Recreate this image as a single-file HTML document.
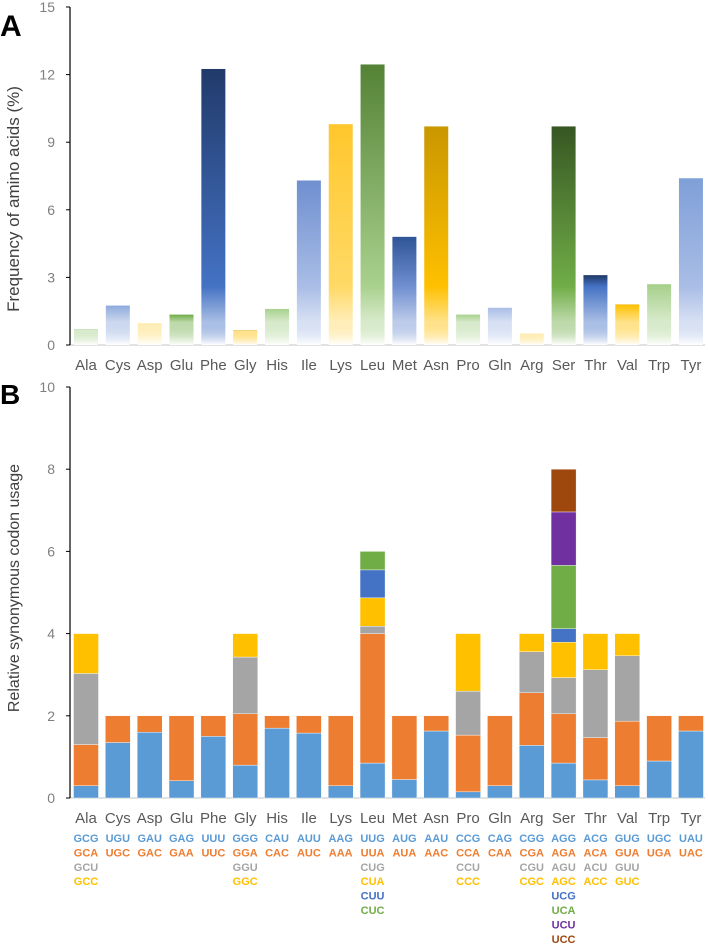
<!DOCTYPE html>
<html><head><meta charset="utf-8"><style>
body{margin:0;background:#fff;}
svg{display:block;font-family:"Liberation Sans",sans-serif;}
</style></head><body>
<svg id="chart" width="708" height="945" viewBox="0 0 708 945">
<defs id="defs"></defs>
<text x="0" y="36" font-size="30" font-weight="bold">A</text>
<text x="0" y="404" font-size="28" font-weight="bold">B</text>
<text transform="translate(19,199) rotate(-90)" text-anchor="middle" font-size="17" fill="#404040">Frequency of amino acids (%)</text>
<text transform="translate(19,588) rotate(-90)" text-anchor="middle" font-size="16" fill="#404040">Relative synonymous codon usage</text>
<g id="gA"></g>
<g id="gB"></g>
</svg>
<script>
const categories=["Ala","Cys","Asp","Glu","Phe","Gly","His","Ile","Lys","Leu","Met","Asn","Pro","Gln","Arg","Ser","Thr","Val","Trp","Tyr"];
const freqValues=[0.7,1.75,0.95,1.35,12.25,0.65,1.6,7.3,9.8,12.45,4.8,9.7,1.35,1.65,0.5,9.7,3.1,1.8,2.7,7.4];
const freqTicks=[0,3,6,9,12,15];
const topColors=["#70ad47","#4472c4","#ffc000","#3b5e27","#213a6a","#7f6000","#93c47d","#6f8fd0","#ffc72c","#548235","#2f5597","#c99700","#a9d18e","#8faadc","#ffd966","#375623","#203864","#7f6000","#a9d18e","#7f9fd8"];
const midColors=["#a9d18e","#8faadc","#ffd966","#70ad47","#4472c4","#ffc000","#a9d18e","#a9bde6","#ffd966","#a9d18e","#6f8fd0","#ffc000","#a9d18e","#a9bde6","#ffd966","#70ad47","#4472c4","#ffc000","#a9d18e","#a9bde6"];
const rscuTicks=[0,2,4,6,8,10];
const layer1=[0.3,1.35,1.6,0.42,1.5,0.8,1.7,1.58,0.3,0.85,0.45,1.63,0.15,0.3,1.28,0.85,0.44,0.3,0.9,1.63];
const layer2=[1.0,0.65,0.4,1.58,0.5,1.25,0.3,0.42,1.7,3.15,1.55,0.37,1.38,1.7,1.28,1.2,1.03,1.57,1.1,0.37];
const layer3=[1.73,0,0,0,0,1.38,0,0,0,0.18,0,0,1.07,0,1.0,0.88,1.65,1.59,0,0];
const layer4=[0.97,0,0,0,0,0.57,0,0,0,0.69,0,0,1.4,0,0.44,0.86,0.88,0.54,0,0];
const layer5=[0,0,0,0,0,0,0,0,0,0.68,0,0,0,0,0,0.33,0,0,0,0];
const layer6=[0,0,0,0,0,0,0,0,0,0.45,0,0,0,0,0,1.54,0,0,0,0];
const layer7=[0,0,0,0,0,0,0,0,0,0,0,0,0,0,0,1.3,0,0,0,0];
const layer8=[0,0,0,0,0,0,0,0,0,0,0,0,0,0,0,1.04,0,0,0,0];
const layers=[layer1,layer2,layer3,layer4,layer5,layer6,layer7,layer8];
const layerColors=["#5b9bd5","#ed7d31","#a5a5a5","#ffc000","#4472c4","#70ad47","#7030a0","#9e480e"];
const codons=[["GCG","GCA","GCU","GCC"],["UGU","UGC"],["GAU","GAC"],["GAG","GAA"],["UUU","UUC"],["GGG","GGA","GGU","GGC"],["CAU","CAC"],["AUU","AUC"],["AAG","AAA"],["UUG","UUA","CUG","CUA","CUU","CUC"],["AUG","AUA"],["AAU","AAC"],["CCG","CCA","CCU","CCC"],["CAG","CAA"],["CGG","CGA","CGU","CGC"],["AGG","AGA","AGU","AGC","UCG","UCA","UCU","UCC"],["ACG","ACA","ACU","ACC"],["GUG","GUA","GUU","GUC"],["UGC","UGA"],["UAU","UAC"]];

const NS="http://www.w3.org/2000/svg";
function mk(tag,attrs,parent){const e=document.createElementNS(NS,tag);for(const k in attrs)e.setAttribute(k,attrs[k]);parent.appendChild(e);return e;}
const xPos=i=>86+i*31.84;
const yA=v=>345-v*(338/15);
const yB=v=>798-v*41.1;
const gA=document.getElementById('gA'),gB=document.getElementById('gB'),defs=document.getElementById('defs');

for(const t of freqTicks){
  const tx=mk('text',{x:55,y:yA(t)+5,'text-anchor':'end','font-size':14,fill:'#7f7f7f'},gA);tx.textContent=t;
  
  
  mk('line',{x1:66,x2:70,y1:yA(t),y2:yA(t),stroke:'#000','stroke-width':1},gA);
}
mk('line',{x1:70,x2:705,y1:yA(0),y2:yA(0),stroke:'#d9d9d9','stroke-width':1.5},gA);
mk('line',{x1:70,x2:70,y1:yA(15),y2:yA(0),stroke:'#000','stroke-width':1.2},gA);
categories.forEach((c,i)=>{
  const v=freqValues[i];
  const g=mk('linearGradient',{id:'gr'+i,x1:0,y1:0,x2:0,y2:1},defs);
  const mid=Math.max(0,Math.min(0.9,1-2.6/v));
  const fade=Math.max(mid+0.05,Math.min(0.97,1-1.0/v));
  mk('stop',{offset:0,'stop-color':topColors[i]},g);
  mk('stop',{offset:mid,'stop-color':midColors[i]},g);
  mk('stop',{offset:fade,'stop-color':midColors[i],'stop-opacity':0.45},g);
  mk('stop',{offset:1,'stop-color':'#fff'},g);
  const r=mk('rect',{x:xPos(i)-12,y:yA(v),width:24,height:yA(0)-yA(v),fill:'url(#gr'+i+')'},gA);
  
  
  const t=mk('text',{x:xPos(i),y:370,'text-anchor':'middle','font-size':15,fill:'#595959'},gA);t.textContent=c;
  
  
});

for(const t of rscuTicks){
  const tx=mk('text',{x:55,y:yB(t)+5,'text-anchor':'end','font-size':14,fill:'#7f7f7f'},gB);tx.textContent=t;
  
  
  mk('line',{x1:66,x2:70,y1:yB(t),y2:yB(t),stroke:'#000','stroke-width':1},gB);
}
mk('line',{x1:70,x2:705,y1:yB(0),y2:yB(0),stroke:'#d9d9d9','stroke-width':1.5},gB);
mk('line',{x1:70,x2:70,y1:yB(10),y2:yB(0),stroke:'#000','stroke-width':1.2},gB);
categories.forEach((c,i)=>{
  let cum=0;
  layers.forEach((L,k)=>{
    const v=L[i]; if(!v) return;
    const r=mk('rect',{x:xPos(i)-12.5,y:yB(cum+v),width:25,height:yB(cum)-yB(cum+v),fill:layerColors[k],stroke:'#fff','stroke-width':0.4},gB);
    
    
    cum+=v;
  });
  const t=mk('text',{x:xPos(i),y:823,'text-anchor':'middle','font-size':15,fill:'#595959'},gB);t.textContent=c;
  
  
  codons[i].forEach((cd,k)=>{
    const ct=mk('text',{x:xPos(i),y:842+k*14.4,'text-anchor':'middle','font-size':11,'font-weight':'bold',fill:layerColors[k]},gB);ct.textContent=cd;
    
    
  });
});
</script>
</body></html>
